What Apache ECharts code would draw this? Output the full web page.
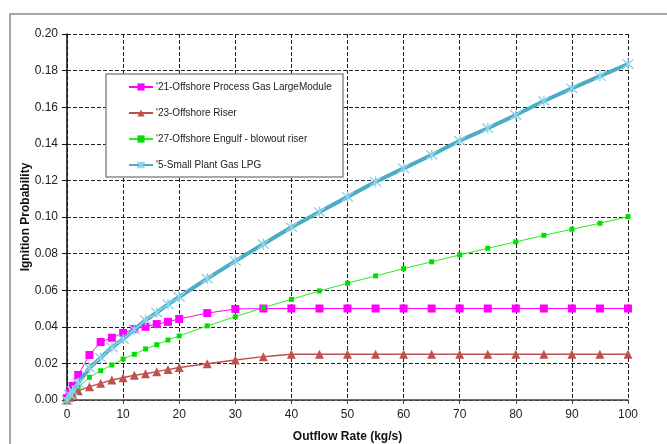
<!DOCTYPE html>
<html>
<head>
<meta charset="utf-8">
<script src="https://cdn.jsdelivr.net/npm/echarts@6/dist/echarts.min.js"></script>
<style>html,body{margin:0;padding:0;background:#fff}#c{width:667px;height:444px}</style>
</head>
<body>
<div id="c"></div>
<script>
var xValues = [0, 0.5, 1, 2, 4, 6, 8, 10, 12, 14, 16, 18, 20, 25, 30, 35, 40, 45, 50, 55, 60, 65, 70, 75, 80, 85, 90, 95, 100];
var names = ["'21-Offshore Process Gas LargeModule", "'23-Offshore Riser", "'27-Offshore Engulf - blowout riser", "'5-Small Plant Gas LPG"];
var offshoreProcess = [0.001, 0.004, 0.0077, 0.0137, 0.0246, 0.0317, 0.034, 0.0366, 0.0388, 0.040, 0.0415, 0.0427, 0.0443, 0.0475, 0.0497, 0.05, 0.05, 0.05, 0.05, 0.05, 0.05, 0.05, 0.05, 0.05, 0.05, 0.05, 0.05, 0.05, 0.05];
var offshoreRiser = [0, 0.0015, 0.003, 0.005, 0.0073, 0.0091, 0.0109, 0.0122, 0.0135, 0.0144, 0.0155, 0.0166, 0.0178, 0.0198, 0.0219, 0.0237, 0.025, 0.025, 0.025, 0.025, 0.025, 0.025, 0.025, 0.025, 0.025, 0.025, 0.025, 0.025, 0.025];
var offshoreEngulf = [0, 0.002, 0.0045, 0.007, 0.0124, 0.016, 0.0191, 0.0224, 0.025, 0.0279, 0.0302, 0.0328, 0.035, 0.0405, 0.0455, 0.0505, 0.055, 0.0596, 0.0638, 0.0678, 0.0718, 0.0755, 0.0793, 0.0829, 0.0864, 0.09, 0.0933, 0.0966, 0.1002];
var smallPlantLPG = [0, 0.003, 0.005, 0.0093, 0.0175, 0.0231, 0.0288, 0.0333, 0.0385, 0.0437, 0.0477, 0.0523, 0.0563, 0.0663, 0.0759, 0.0852, 0.0944, 0.1027, 0.111, 0.1193, 0.1266, 0.1339, 0.1417, 0.1485, 0.1557, 0.1634, 0.1703, 0.177, 0.1836];

function pairs(ys) { return xValues.map(function (x, i) { return [x, ys[i]]; }); }

var font = 'Liberation Sans, Arial, sans-serif';
var chart = echarts.init(document.getElementById('c'), null, { renderer: 'canvas' });
var starPath = 'path://M0,0L10,10M10,0L0,10M5,-1L5,11';

chart.setOption({
  animation: false,
  backgroundColor: '#fff',
  textStyle: { fontFamily: font },
  grid: { left: 67, top: 34, right: 39, bottom: 44, containLabel: false, outerBoundsMode: 'none' },
  graphic: [
    { type: 'rect', z: 0, shape: { x: 10, y: 14, width: 700, height: 500 }, style: { fill: 'none', stroke: '#8c8c8c', lineWidth: 1.5 } },
    { type: 'rect', z: 50, shape: { x: 106, y: 74, width: 237, height: 103 }, style: { fill: '#fff', stroke: '#8c8c8c', lineWidth: 1.5 } }
  ],
  legend: {
    z: 60,
    orient: 'vertical',
    left: 128,
    top: 80,
    padding: 0,
    itemWidth: 24,
    itemHeight: 9,
    itemGap: 12,
    data: names,
    textStyle: { fontFamily: font, fontSize: 10, color: '#222', lineHeight: 14, padding: [0, 0, 0, -2] }
  },
  xAxis: {
    type: 'value', min: 0, max: 100, interval: 10,
    name: 'Outflow Rate (kg/s)', nameLocation: 'middle', nameGap: 31, nameMoveOverlap: false,
    nameTextStyle: { fontFamily: font, fontSize: 12, fontWeight: 'bold', color: '#111' },
    axisLine: { show: true, onZero: false, lineStyle: { color: '#444', width: 1.5 } },
    axisTick: { show: true, length: 4, lineStyle: { color: '#444' } },
    axisLabel: { margin: 9, fontFamily: font, fontSize: 12, color: '#222' },
    splitLine: { show: true, lineStyle: { type: 'dashed', color: '#222', width: 1 } }
  },
  yAxis: {
    type: 'value', min: 0, max: 0.2, interval: 0.02,
    name: 'Ignition Probability', nameLocation: 'middle', nameGap: 35, nameMoveOverlap: false,
    nameTextStyle: { fontFamily: font, fontSize: 12, fontWeight: 'bold', color: '#111' },
    axisLine: { show: true, onZero: false, lineStyle: { color: '#111', width: 1.5 } },
    axisTick: { show: true, length: 5, lineStyle: { color: '#111' } },
    axisLabel: { margin: 9, fontFamily: font, fontSize: 12, color: '#222', formatter: function (v) { return v.toFixed(2); } },
    splitLine: { show: true, lineStyle: { type: 'dashed', color: '#222', width: 1 } }
  },
  series: [
    {
      name: names[0], type: 'line', data: pairs(offshoreProcess), z: 3,
      symbol: 'rect', symbolSize: 8,
      lineStyle: { color: '#ff00ff', width: 1 },
      itemStyle: { color: '#ff00ff' }
    },
    {
      name: names[1], type: 'line', data: pairs(offshoreRiser), z: 3,
      symbol: 'triangle', symbolSize: 9,
      lineStyle: { color: '#c0504d', width: 1.5 },
      itemStyle: { color: '#c0504d' }
    },
    {
      name: names[2], type: 'line', data: pairs(offshoreEngulf), z: 3,
      symbol: 'rect', symbolSize: 5,
      lineStyle: { color: '#22ee22', width: 1 },
      itemStyle: { color: '#00e000' }
    },
    {
      name: names[3], type: 'line', data: pairs(smallPlantLPG), z: 4,
      symbol: starPath, symbolSize: 11,
      lineStyle: { color: '#4bacc6', width: 4 },
      itemStyle: { color: 'rgba(0,0,0,0)', borderColor: '#8fd3ea', borderWidth: 1.4 }
    }
  ]
});
</script>
</body>
</html>
